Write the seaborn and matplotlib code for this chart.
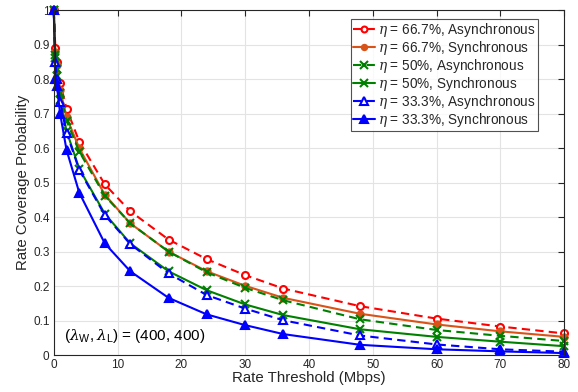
import numpy as np
import pandas as pd
import matplotlib
matplotlib.use("Agg")
import matplotlib.pyplot as plt
import seaborn as sns

# ---- data ----
rate_mbps = [0, 0.25, 0.5, 1, 2, 4, 8, 12, 18, 24, 30, 36, 48, 60, 70, 80]
eta667_async = [1, 0.89, 0.85, 0.79, 0.715, 0.619, 0.495, 0.417, 0.335, 0.278, 0.232, 0.193, 0.142, 0.106, 0.083, 0.063]
eta667_sync = [1, 0.88, 0.84, 0.77, 0.69, 0.60, 0.465, 0.382, 0.300, 0.243, 0.201, 0.166, 0.120, 0.089, 0.069, 0.053]
eta50_async = [1, 0.87, 0.83, 0.76, 0.68, 0.59, 0.462, 0.382, 0.300, 0.240, 0.195, 0.159, 0.104, 0.073, 0.056, 0.041]
eta50_sync = [1, 0.86, 0.81, 0.74, 0.65, 0.54, 0.410, 0.324, 0.243, 0.188, 0.147, 0.116, 0.075, 0.053, 0.039, 0.026]
eta333_async = [1, 0.85, 0.80, 0.735, 0.645, 0.537, 0.406, 0.322, 0.237, 0.174, 0.135, 0.101, 0.057, 0.031, 0.017, 0.010]
eta333_sync = [1, 0.80, 0.78, 0.70, 0.595, 0.471, 0.324, 0.243, 0.166, 0.118, 0.087, 0.061, 0.030, 0.017, 0.011, 0.006]

labels = [r"$\eta$ = 66.7%, Asynchronous", r"$\eta$ = 66.7%, Synchronous",
          r"$\eta$ = 50%, Asynchronous", r"$\eta$ = 50%, Synchronous",
          r"$\eta$ = 33.3%, Asynchronous", r"$\eta$ = 33.3%, Synchronous"]
series = [eta667_async, eta667_sync, eta50_async, eta50_sync, eta333_async, eta333_sync]

x_ticks = list(range(0, 81, 10))
y_ticks = [0, 0.1, 0.2, 0.3, 0.4, 0.5, 0.6, 0.7, 0.8, 0.9, 1]
y_ticklabels = ["0", "0.1", "0.2", "0.3", "0.4", "0.5", "0.6", "0.7", "0.8", "0.9", "1"]

# ---- styles ----
sns.set_style("white")
plt.rcParams['font.family'] = ['Liberation Sans', 'DejaVu Sans']
plt.rcParams['mathtext.fontset'] = 'custom'
plt.rcParams['mathtext.rm'] = 'Liberation Sans'
plt.rcParams['mathtext.it'] = 'DejaVu Serif:italic'

red = (1, 0, 0)
orange = (0.85, 0.325, 0.098)
green = (0, 0.5, 0)
blue = (0, 0, 1)
styles = [
    dict(color=red, dashes=(4, 2.5), marker='o', mfc='white', ms=5),
    dict(color=orange, dashes=None, marker='o', mfc=orange, ms=4.5),
    dict(color=green, dashes=(4, 2.5), marker='x', mfc=green, ms=6),
    dict(color=green, dashes=None, marker='x', mfc=green, ms=6),
    dict(color=blue, dashes=(4, 2.5), marker='^', mfc='white', ms=6),
    dict(color=blue, dashes=None, marker='^', mfc=blue, ms=6),
]

fig = plt.figure(figsize=(5.78, 3.92), dpi=100)
ax = fig.add_axes([0.093, 0.094, 0.883, 0.880])

for vals, lab, st in zip(series, labels, styles):
    df = pd.DataFrame({"x": rate_mbps, "y": vals})
    sns.lineplot(data=df, x="x", y="y", ax=ax, color=st['color'], label=lab,
                 marker=st['marker'], markersize=st['ms'], markerfacecolor=st['mfc'],
                 markeredgecolor=st['color'], markeredgewidth=1.5, linewidth=1.5,
                 clip_on=False)
    line = ax.get_lines()[-1]
    if st['dashes'] is not None:
        line.set_dashes(st['dashes'])

ax.set_xlim(0, 80)
ax.set_ylim(0, 1)
ax.set_xticks(x_ticks)
ax.set_yticks(y_ticks)
ax.set_yticklabels(y_ticklabels)
ax.grid(True, color='#e3e3e3', linewidth=0.8)
ax.set_axisbelow(True)
for s in ax.spines.values():
    s.set_color('#262626')
    s.set_linewidth(0.8)
    s.set_visible(True)
ax.tick_params(direction='in', length=4, width=0.8, top=True, right=True,
               labelsize=8.5, colors='#262626', pad=3)
ax.set_xlabel("Rate Threshold (Mbps)", fontsize=10.8, color='#262626', labelpad=0)
ax.set_ylabel("Rate Coverage Probability", fontsize=10.8, color='#262626', labelpad=2)

ax.text(1.6, 0.055, r"$(\lambda_{\mathrm{W}},\lambda_{\mathrm{L}})$ = (400, 400)",
        fontsize=11, color='black', va='center', ha='left')

leg = ax.legend(loc='upper right', bbox_to_anchor=(0.949, 0.974), fontsize=9.8,
                frameon=True, fancybox=False, edgecolor='#262626',
                handlelength=1.6, handletextpad=0.25, borderpad=0.15,
                labelspacing=0.0, borderaxespad=0, markerscale=0.85)
leg.get_frame().set_linewidth(0.8)

fig.savefig("out.png", dpi=100)
